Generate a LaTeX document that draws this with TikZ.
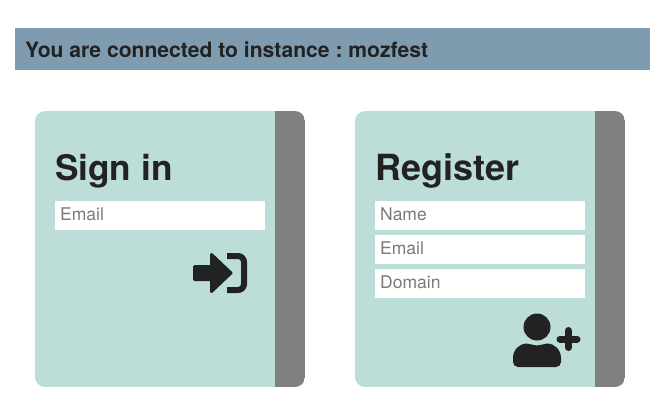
\documentclass[tikz,border=0pt]{standalone}
\usepackage{fontspec}
\setmainfont{TeX Gyre Heros}
\frenchspacing
\definecolor{bannerc}{HTML}{7F9BAF}
\definecolor{cardc}{HTML}{BDDED8}
\definecolor{stripc}{HTML}{808080}
\definecolor{inkc}{HTML}{222222}
\definecolor{hintc}{HTML}{7A7A7A}
\tikzset{
  x=1pt,y=-1pt,
  bannertext/.style={anchor=base west,inner sep=0pt,text=inkc,font=\fontsize{21.1}{24}\selectfont\bfseries},
  title/.style={anchor=base west,inner sep=0pt,text=inkc,font=\fontsize{36}{40}\selectfont\bfseries},
  hint/.style={anchor=base west,inner sep=0pt,text=hintc,font=\fontsize{17.5}{20}\selectfont},
  inputbox/.style={fill=white,draw=none},
  icon/.style={fill=inkc,draw=inkc,line width=3pt,line join=round},
}
\newcommand{\card}[1]{%
  \begin{scope}
  \clip[rounded corners=10pt] (#1,111) rectangle (#1+270,387);
  \fill[cardc] (#1,111) rectangle (#1+240,387);
  \fill[stripc] (#1+240,111) rectangle (#1+270,387);
  \end{scope}
}
\begin{document}
\begin{tikzpicture}
\useasboundingbox (0,0) rectangle (661,405);
\fill[bannerc] (15,28) rectangle (650,70);
\node[bannertext] (banner) at (25,57) {You are connected to instance : mozfest};
\card{35}
\card{355}
\node[title,font=\fontsize{35.2}{40}\selectfont\bfseries] (signin) at (55,180) {Sign in};
\node[title] (register) at (375,180) {Register};
\fill[inputbox] (55,201) rectangle (265,230);
\node[hint] (email1) at (60,220) {Email};
\fill[inputbox] (375,201) rectangle (585,230);
\node[hint] (name) at (380,220) {Name};
\fill[inputbox] (375,235) rectangle (585,264);
\node[hint] (email2) at (380,254) {Email};
\fill[inputbox] (375,269) rectangle (585,298);
\node[hint] (domain) at (380,288) {Domain};
% sign-in icon
\draw[icon] (194.5,266.5) -- (211.5,266.5) -- (211.5,254.5) -- (231,273) -- (211.5,291.5) -- (211.5,279.5) -- (194.5,279.5) -- cycle;
\draw[inkc,line width=6pt,line join=round] (227,256) -- (238,256) arc[start angle=90,end angle=0,x radius=6,y radius=-6] -- (244,284) arc[start angle=0,end angle=-90,x radius=6,y radius=-6] -- (227,290);
% register icon
\fill[inkc] (537,327) circle[radius=13.5];
\fill[inkc] (518,367) to[out=180,in=-90] (513,362) -- (513,358) to[out=90,in=180] (527,343.5) to[out=-5,in=180] (537,345.5) to[out=0,in=185] (547,343.5) to[out=0,in=90] (561,358) -- (561,362) to[out=-90,in=0] (556,367) -- cycle;
\draw[inkc,line width=7pt,line cap=round] (560,339) -- (577,339);
\draw[inkc,line width=7pt,line cap=round] (568.5,330.5) -- (568.5,347.5);
\end{tikzpicture}
\end{document}
